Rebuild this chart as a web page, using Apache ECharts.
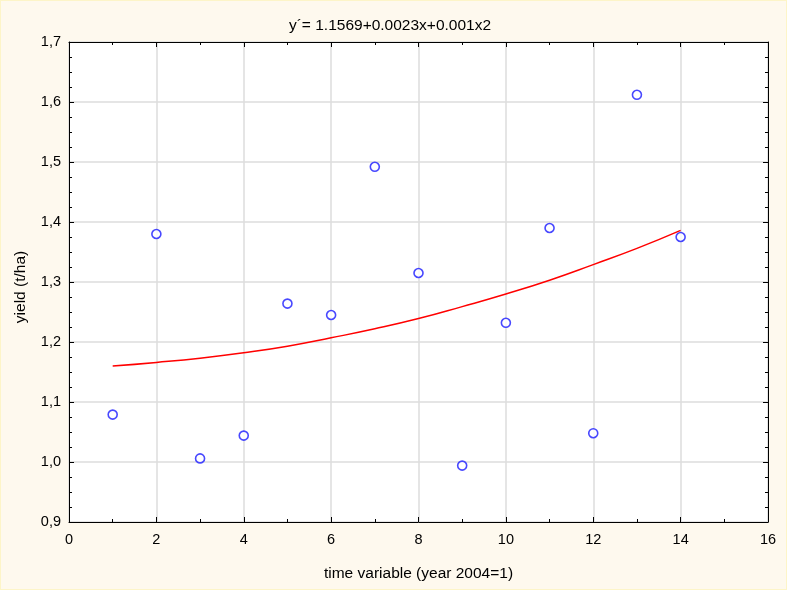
<!DOCTYPE html>
<html>
<head>
<meta charset="utf-8">
<script src="https://cdn.jsdelivr.net/npm/echarts@6/dist/echarts.min.js"></script>
<style>
  html, body { margin: 0; padding: 0; background: #fef9ee; }
  #chart { width: 787px; height: 590px; box-sizing: border-box; border: 1px solid #fdf5c8; }
</style>
</head>
<body>
<div id="chart"></div>
<script>
// observed points
var years = [1, 2, 3, 4, 5, 6, 7, 8, 9, 10, 11, 12, 13, 14];
var yields = [1.079, 1.380, 1.006, 1.044, 1.264, 1.245, 1.492, 1.315, 0.994, 1.232, 1.390, 1.048, 1.612, 1.375];
// fitted curve at each year
var fitYears = [1, 2, 3, 4, 5, 6, 7, 8, 9, 10, 11, 12, 13, 14];
var fitValues = [1.160, 1.166, 1.173, 1.182, 1.193, 1.207, 1.222, 1.239, 1.259, 1.280, 1.303, 1.329, 1.356, 1.386];

var titleText = 'y\u00b4= 1.1569+0.0023x+0.001x2';
var xName = 'time variable (year 2004=1)';
var yName = 'yield (t/ha)';

function pairs(xs, ys) {
    return xs.map(function (x, i) { return [x, ys[i]]; });
}

var font = 'Liberation Sans, Arial, sans-serif';

function xAx(pos, show) {
    return {
        type: 'value', position: pos, min: 0, max: 16, interval: 2,
        axisLine: { show: true, onZero: false, lineStyle: { color: '#000', width: 1 } },
        axisTick: { show: true, inside: true, length: 5, lineStyle: { color: '#000' } },
        minorTick: { show: true, splitNumber: 2, length: 3, lineStyle: { color: '#000' } },
        splitLine: { show: show, lineStyle: { color: '#dcdcdc', width: 1.5 } },
        axisLabel: { show: show, color: '#000', fontSize: 14.5, fontFamily: font, margin: 10 },
        name: show ? xName : '', nameLocation: 'middle', nameGap: 44,
        nameTextStyle: { color: '#000', fontSize: 15.5, fontFamily: font }
    };
}

function yAx(pos, show) {
    return {
        type: 'value', position: pos, min: 0.9, max: 1.7, interval: 0.1,
        axisLine: { show: true, onZero: false, lineStyle: { color: '#000', width: 1 } },
        axisTick: { show: true, inside: true, length: 5, lineStyle: { color: '#000' } },
        minorTick: { show: true, splitNumber: 4, length: 3, lineStyle: { color: '#000' } },
        splitLine: { show: show, lineStyle: { color: '#dcdcdc', width: 1.5 } },
        axisLabel: {
            show: show, color: '#000', fontSize: 14.5, fontFamily: font, margin: 8,
            formatter: function (v) { return v.toFixed(1).replace('.', ','); }
        },
        name: show ? yName : '', nameLocation: 'middle', nameGap: 40, nameRotate: 90,
        nameTextStyle: { color: '#000', fontSize: 15.5, fontFamily: font, padding: [0, 0, 0, -10] }
    };
}

var myChart = echarts.init(document.getElementById('chart'));
var option = {
    backgroundColor: '#fef9ee',
    animation: false,
    title: {
        text: titleText, left: 384, top: 12, textAlign: 'center',
        textStyle: { color: '#000', fontSize: 15.5, fontWeight: 'normal', fontFamily: font }
    },
    grid: { left: 68, top: 41, right: 18, bottom: 67, show: true, backgroundColor: '#fff', borderWidth: 0 },
    xAxis: [xAx('bottom', true), xAx('top', false)],
    yAxis: [yAx('left', true), yAx('right', false)],
    series: [
        {
            type: 'line', data: pairs(fitYears, fitValues), smooth: true,
            showSymbol: false, symbol: 'none',
            lineStyle: { color: '#ff0000', width: 1.5 }, z: 2
        },
        {
            type: 'scatter', data: pairs(years, yields),
            symbol: 'circle', symbolSize: 9,
            itemStyle: { color: '#fff', borderColor: '#1a1aff', borderWidth: 1.6 }, z: 3
        }
    ]
};
myChart.setOption(option);
</script>
</body>
</html>
